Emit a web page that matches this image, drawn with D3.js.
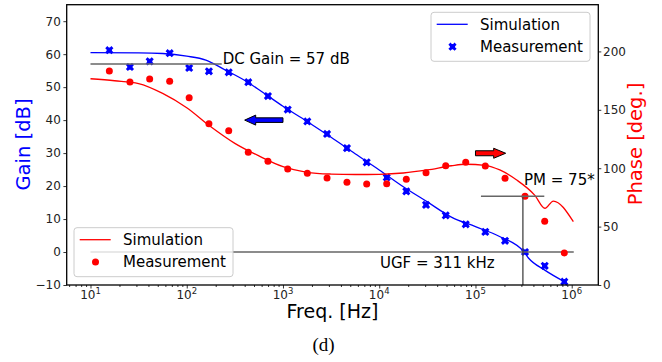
<!DOCTYPE html>
<html>
<head>
<meta charset="utf-8">
<script src="https://cdn.jsdelivr.net/npm/d3@7"></script>
<style>
  body { margin: 0; background: #fff; }
  text { font-family: "DejaVu Sans", sans-serif; }
</style>
</head>
<body>
<div id="chart"></div>
<script>
// measured points (shared frequencies)
var freqMeas = [15.7, 25.7, 41.2, 66.5, 106, 170, 273, 436, 698, 1120, 1790, 2870, 4620, 7410,
    11960, 19110, 30630, 49070, 79210, 126500, 202900, 327200, 524000, 837400];
var gainMeas = [61.2, 56.1, 57.8, 60.3, 55.8, 54.8, 54.5, 51.5, 47.3, 43.2, 39.6, 35.8, 31.5, 27.2,
    22.6, 18.4, 14.3, 11.1, 8.4, 6.1, 3.4, 0.0, -4.2, -9.0];
var phaseMeas = [183.2, 173.8, 176.4, 174.4, 160.4, 138.1, 132.1, 113.6, 105.9, 99.3, 95.7, 91.6, 87.9, 86.5,
    86.7, 90.5, 96.2, 102.1, 105.1, 101.9, 91.4, 75.9, 54.5, 27.4];

// simulation curves
var freqSimGain = [10, 31.6, 56.2, 100, 158, 251, 398, 631, 1000, 1780, 3160, 5620, 10000, 17800,
    31600, 56200, 100000, 178000, 316000, 355000, 525000, 850000];
var gainSim = [60.45, 60.4, 60.2, 59.4, 58.2, 55.2, 52.1, 48.2, 44.2, 39.6, 34.8, 29.8, 24.9, 19.8,
    15.2, 10.6, 7.7, 4.7, 0.15, -1.8, -5.5, -9.1];
var freqSimPhase = [10, 17.8, 31.6, 56.2, 100, 178, 316, 562, 1000, 1780, 3160, 5620, 10000, 17800,
    31600, 56200, 79400, 126000, 179000, 268000, 412000, 527000, 644000, 1040000];
var phaseSim = [176.6, 174.9, 172.5, 164.1, 151.8, 135.5, 121.3, 110.5, 101.3, 96.5, 95.0, 94.6, 94.8, 95.9,
    98.5, 102.1, 103.4, 102.5, 98.5, 89.9, 77.0, 65.7, 71.9, 54.2];

// ticks
var freqTicks = [1e1, 1e2, 1e3, 1e4, 1e5, 1e6];
var gainTicks = [-10, 0, 10, 20, 30, 40, 50, 60, 70];
var phaseTicks = [0, 50, 100, 150, 200];

// annotations
var dcGainLine = [[10, 57], [231, 57]];          // gain axis
var ugfLine = [[10, 0], [1.05e6, 0]];            // gain axis
var ugfVertical = [[311000, 0], [311000, 75.9]]; // phase axis
var pmLine = [[114000, 75.9], [519000, 75.9]];   // phase axis
var gainArrow = [[1000, 40], [400, 40]];         // tail -> tip, gain axis
var phaseArrow = [[100000, 112.8], [206000, 112.8]]; // tail -> tip, phase axis

var width = 662, height = 362;
var pLeft = 66.7, pRight = 598.3, pTop = 4.7, pBottom = 285;

var svg = d3.select("#chart").append("svg")
    .attr("width", width)
    .attr("height", height);
svg.append("rect").attr("width", width).attr("height", height).attr("fill", "#fff");

var x = d3.scaleLog().domain([5.66, 1.889e6]).range([pLeft, pRight]);
var yGain = d3.scaleLinear().domain([-10, 75]).range([pBottom, pTop]);
var yPhase = d3.scaleLinear().domain([0, 240]).range([pBottom, pTop]);

function minus(d) {
    return d < 0 ? "\u2212" + Math.abs(d) : String(d);
}

//------------------------------axes--------------------------
var minorTicks = [];
for (var dec = 0; dec <= 6; dec++) {
    for (var k = 2; k <= 9; k++) {
        var v = k * Math.pow(10, dec);
        if (v >= x.domain()[0] && v <= x.domain()[1]) minorTicks.push(v);
    }
}

var gx = svg.append("g").attr("transform", "translate(0," + pBottom + ")");
gx.call(d3.axisBottom(x).tickValues(freqTicks).tickSize(3.5).tickFormat(""));
gx.append("g").call(d3.axisBottom(x).tickValues(minorTicks).tickSize(2).tickFormat(""));
gx.selectAll(".domain").remove();
gx.selectAll("line").attr("stroke", "#000").attr("stroke-width", 0.8);

var xLabels = svg.append("g").selectAll("text")
    .data(freqTicks)
    .enter()
    .append("text")
    .attr("x", function(d) { return x(d); })
    .attr("y", 298.5)
    .attr("font-size", "12px")
    .attr("fill", "#222")
    .style("text-anchor", "middle");
xLabels.append("tspan").text("10");
xLabels.append("tspan")
    .attr("dy", -4.8)
    .attr("font-size", "8.5px")
    .text(function(d) { return Math.round(Math.log10(d)); });

var gyl = svg.append("g").attr("transform", "translate(" + pLeft + ",0)");
gyl.call(d3.axisLeft(yGain).tickValues(gainTicks).tickSize(3.3).tickPadding(2.6).tickFormat(minus));
gyl.selectAll(".domain").remove();
gyl.selectAll("line").attr("stroke", "#000").attr("stroke-width", 0.8);
gyl.selectAll("text").attr("font-size", "12px").attr("fill", "#222").attr("font-family", "DejaVu Sans");

var gyr = svg.append("g").attr("transform", "translate(" + pRight + ",0)");
gyr.call(d3.axisRight(yPhase).tickValues(phaseTicks).tickSize(3).tickPadding(1.8));
gyr.selectAll(".domain").remove();
gyr.selectAll("line").attr("stroke", "#000").attr("stroke-width", 0.8);
gyr.selectAll("text").attr("font-size", "12px").attr("fill", "#222").attr("font-family", "DejaVu Sans");

// axis titles
svg.append("text")
    .attr("transform", "translate(29.5,144.5) rotate(-90)")
    .attr("font-size", "19.5px")
    .attr("fill", "#0000ff")
    .style("text-anchor", "middle")
    .text("Gain [dB]");
svg.append("text")
    .attr("transform", "translate(642,144) rotate(-90)")
    .attr("font-size", "19.5px")
    .attr("fill", "#ff0000")
    .style("text-anchor", "middle")
    .text("Phase [deg.]");
svg.append("text")
    .attr("x", 332.5)
    .attr("y", 317.5)
    .attr("font-size", "19px")
    .attr("fill", "#000")
    .style("text-anchor", "middle")
    .text("Freq. [Hz]");
svg.append("text")
    .attr("x", 323.5)
    .attr("y", 351)
    .attr("font-size", "19px")
    .style("font-family", "Liberation Serif")
    .attr("fill", "#000")
    .style("text-anchor", "middle")
    .text("(d)");

//------------------------------gain (ax1)--------------------------
var lineGain = d3.line()
    .x(function(d) { return x(d[0]); })
    .y(function(d) { return yGain(d[1]); })
    .curve(d3.curveMonotoneX);
var linePhase = d3.line()
    .x(function(d) { return x(d[0]); })
    .y(function(d) { return yPhase(d[1]); })
    .curve(d3.curveMonotoneX);
var straightGain = d3.line()
    .x(function(d) { return x(d[0]); })
    .y(function(d) { return yGain(d[1]); });
var straightPhase = d3.line()
    .x(function(d) { return x(d[0]); })
    .y(function(d) { return yPhase(d[1]); });

svg.append("path")
    .attr("d", lineGain(d3.zip(freqSimGain, gainSim)))
    .attr("fill", "none")
    .attr("stroke", "#0000ff")
    .attr("stroke-width", 1.3);

// filled "X" marker like matplotlib's
var xMarker = d3.symbol().type(d3.symbolCross).size(42);
function drawX(sel) {
    sel.append("path")
        .attr("d", xMarker())
        .attr("transform", "rotate(45)")
        .attr("fill", "#0000ff");
    sel.append("circle").attr("r", 2.6).attr("fill", "#0000ff");
}
svg.append("g").selectAll("g")
    .data(d3.zip(freqMeas, gainMeas))
    .enter()
    .append("g")
    .attr("transform", function(d) { return "translate(" + x(d[0]) + "," + yGain(d[1]) + ")"; })
    .call(drawX);

svg.append("path")
    .attr("d", straightGain(dcGainLine))
    .attr("stroke", "#666").attr("stroke-width", 1.5).attr("fill", "none");
svg.append("path")
    .attr("d", straightGain(ugfLine))
    .attr("stroke", "#666").attr("stroke-width", 1.5).attr("fill", "none");

svg.append("text")
    .attr("x", 222.7).attr("y", 64)
    .attr("font-size", "15px").attr("fill", "#000")
    .text("DC Gain = 57 dB");
svg.append("text")
    .attr("x", 380).attr("y", 268.3)
    .attr("font-size", "15px").attr("fill", "#000")
    .text("UGF = 311 kHz");

function arrowPath(x0, x1, yc, shaft, head, headLen) {
    var dir = x1 > x0 ? 1 : -1;
    var xh = x1 - dir * headLen;
    return "M" + x0 + "," + (yc - shaft) + "L" + xh + "," + (yc - shaft) + "L" + xh + "," + (yc - head) +
        "L" + x1 + "," + yc + "L" + xh + "," + (yc + head) + "L" + xh + "," + (yc + shaft) +
        "L" + x0 + "," + (yc + shaft) + "Z";
}
svg.append("path")
    .attr("d", arrowPath(x(gainArrow[0][0]), x(gainArrow[1][0]), yGain(gainArrow[0][1]), 2.3, 5, 11))
    .attr("fill", "#0000ff").attr("stroke", "#000").attr("stroke-width", 1);

function legend(lx, ly, color, marker) {
    var g = svg.append("g").attr("transform", "translate(" + lx + "," + ly + ")");
    g.append("rect")
        .attr("width", 159).attr("height", 49).attr("rx", 3)
        .attr("fill", "#fff").attr("fill-opacity", 0.8)
        .attr("stroke", "#ccc").attr("stroke-width", 1);
    g.append("line")
        .attr("x1", 5.7).attr("x2", 36.7).attr("y1", 12).attr("y2", 12)
        .attr("stroke", color).attr("stroke-width", 1.3);
    var m = g.append("g").attr("transform", "translate(21.5,34.4)");
    if (marker == "x") {
        m.call(drawX);
    } else {
        m.append("circle").attr("r", 3.5).attr("fill", color);
    }
    g.append("text").attr("x", 49).attr("y", 12).attr("dy", "0.35em")
        .attr("font-size", "15px").attr("fill", "#000").text("Simulation");
    g.append("text").attr("x", 49).attr("y", 34.4).attr("dy", "0.35em")
        .attr("font-size", "15px").attr("fill", "#000").text("Measurement");
}
legend(431, 12.3, "#0000ff", "x");

//------------------------------phase (ax2)--------------------------
svg.append("path")
    .attr("d", linePhase(d3.zip(freqSimPhase, phaseSim)))
    .attr("fill", "none")
    .attr("stroke", "#ff0000")
    .attr("stroke-width", 1.3);

svg.append("g").selectAll("circle")
    .data(d3.zip(freqMeas, phaseMeas))
    .enter()
    .append("circle")
    .attr("cx", function(d) { return x(d[0]); })
    .attr("cy", function(d) { return yPhase(d[1]); })
    .attr("r", 3.5)
    .attr("fill", "#ff0000");

svg.append("path")
    .attr("d", straightPhase(ugfVertical))
    .attr("stroke", "#444").attr("stroke-width", 1.3).attr("fill", "none");
svg.append("path")
    .attr("d", straightPhase(pmLine))
    .attr("stroke", "#666").attr("stroke-width", 1.5).attr("fill", "none");

svg.append("text")
    .attr("x", 524).attr("y", 185)
    .attr("font-size", "15px").attr("fill", "#000")
    .text("PM = 75*");

svg.append("path")
    .attr("d", arrowPath(x(phaseArrow[0][0]), x(phaseArrow[1][0]), yPhase(phaseArrow[0][1]), 2.5, 5, 12))
    .attr("fill", "#ff0000").attr("stroke", "#000").attr("stroke-width", 1);

legend(74, 227.7, "#ff0000", "o");

// frame
svg.append("rect")
    .attr("x", pLeft).attr("y", pTop)
    .attr("width", pRight - pLeft).attr("height", pBottom - pTop)
    .attr("fill", "none").attr("stroke", "#000").attr("stroke-width", 1.3);
</script>
</body>
</html>
